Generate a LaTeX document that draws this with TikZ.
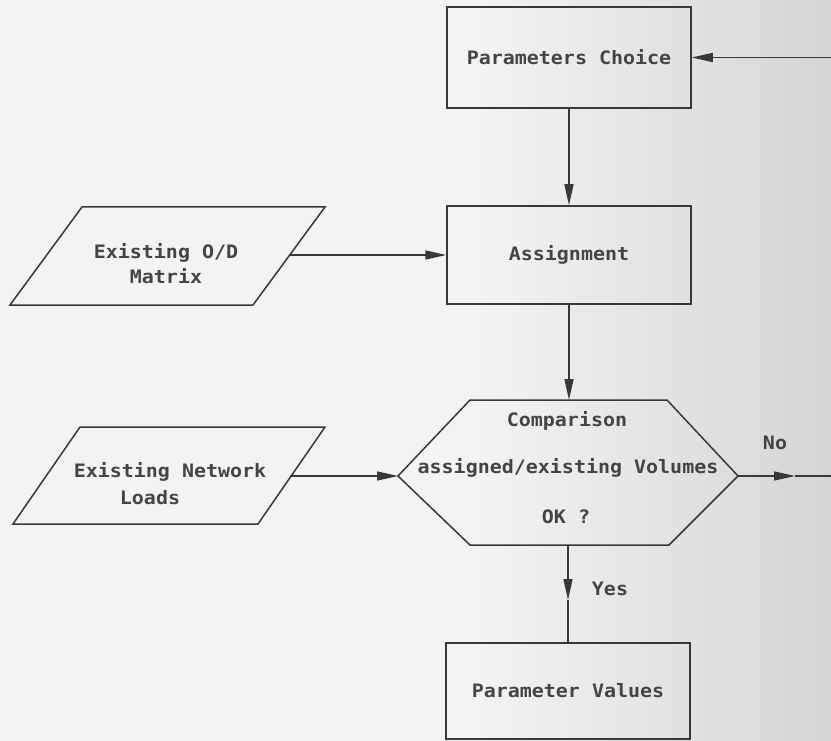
\documentclass[tikz,border=0pt]{standalone}
\usepackage{fontspec}
\newfontfamily\plotfont[FakeStretch=1.08]{DejaVu Sans Mono}
\usetikzlibrary{arrows.meta}
\definecolor{ink}{HTML}{383838}
\definecolor{txt}{HTML}{444444}
\definecolor{paperL}{HTML}{F3F3F3}
\definecolor{paperR}{HTML}{D5D5D5}
\begin{document}
\begin{tikzpicture}[x=1pt,y=-1pt,
  con/.style={draw=ink, line width=1.5pt},
  box/.style={con, minimum width=244pt, inner sep=0pt, text=txt,
    font=\plotfont\bfseries\fontsize{18.5}{25}\selectfont},
  lbl/.style={text=txt, inner sep=0pt, align=center,
    font=\plotfont\bfseries\fontsize{18.5}{25}\selectfont},
  arr/.style={con, -{Triangle[length=21pt,width=9pt]}}]
\useasboundingbox (0,0) rectangle (831,741);
\clip (0,0) rectangle (831,741);
% paper
\fill[paperL] (0,0) rectangle (480,741);
\shade[left color=paperL, right color=paperR] (479,0) rectangle (831,741);

% process boxes
\node[box, minimum height=101pt] (pc) at (569,57.5) {Parameters Choice};
\node[box, minimum height=98pt] (as) at (569,255) {Assignment};
\node[box, minimum height=96pt] (pv) at (568,691) {Parameter Values};

% input parallelograms
\draw[con] (82,207) -- (325,207) -- (253,305) -- (10,305) -- cycle;
\node[lbl] (od) at (166,264) {Existing O/D\\Matrix};
\coordinate (odR) at (290,255);

\draw[con] (80,427) -- (325,427) -- (258,524) -- (13,524) -- cycle;
\node[lbl] (nl1) at (170,472) {Existing Network};
\node[lbl] (nl2) at (150,498) {Loads};
\coordinate (nlR) at (290,476);

% decision hexagon
\draw[con] (398,476) -- (470,400) -- (667,400) -- (738,476) -- (669,545) -- (470,545) -- cycle;
\coordinate (hxW) at (398,476);
\coordinate (hxE) at (738,476);
\coordinate (hxN) at (569,400);
\coordinate (hxS) at (568,545);
\node[lbl] (h1) at (567,421) {Comparison};
\node[lbl] (h2) at (568,468) {assigned/existing Volumes};
\node[lbl] (h3) at (566,517) {OK ?};

% connectors
\draw[arr] (pc.south) -- (as.north);
\draw[arr] (as.south) -- (hxN);
\draw[arr] (odR) -- (as.west);
\draw[arr] (nlR) -- (hxW);

\coordinate (noM) at (795,476);
\coordinate (noEnd) at (840,476);
\draw[arr] (hxE) -- (noM);
\draw[con] (noM) -- (noEnd);
\node[lbl] (no) at (775,443) {No};

\coordinate (yesM) at (568,600);
\draw[arr] (hxS) -- (yesM);
\draw[con] (yesM) -- (pv.north);
\node[lbl] (yes) at (610,589) {Yes};

\coordinate (fbR) at (840,57.5);
\draw[arr] (fbR) -- (pc.east);
\end{tikzpicture}
\end{document}
